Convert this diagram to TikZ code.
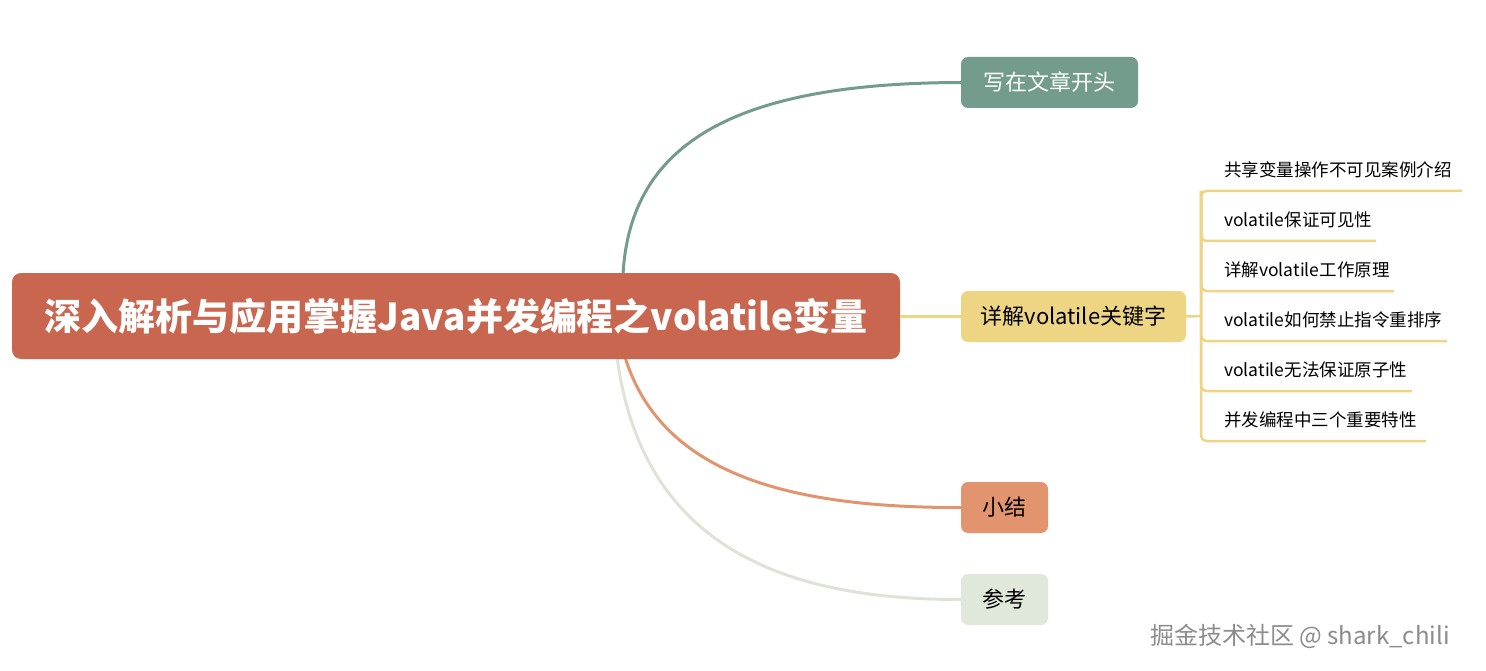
\documentclass[tikz,border=0pt]{standalone}
\usepackage{fontspec}
\setmainfont{Noto Sans CJK SC}
\definecolor{rootc}{HTML}{C9664F}
\definecolor{greenc}{HTML}{739C8C}
\definecolor{yellowc}{HTML}{EDD584}
\definecolor{orangec}{HTML}{E2946F}
\definecolor{lightc}{HTML}{DFE8DA}
\definecolor{lightline}{HTML}{DDE3D7}
\definecolor{wmark}{HTML}{8C8C8C}
\tikzset{
  topic/.style={rounded corners=7pt, minimum height=51pt, inner sep=0pt, font=\fontsize{22}{26}\selectfont},
  sub/.style={anchor=west, inner sep=0pt, font=\fontsize{17.5}{21}\selectfont},
  branch/.style={line width=3pt},
  subline/.style={draw=yellowc, line width=2.5pt, rounded corners=6pt},
}
\begin{document}
\begin{tikzpicture}[x=1pt,y=-1pt]
\useasboundingbox (0,0) rectangle (1486,671);
% branch starts
\coordinate (g0) at (623,275);
\coordinate (o0) at (625,357);
\coordinate (l0) at (617,357);
% main topics
\node[topic, fill=greenc, text=white, minimum width=177pt] (t1) at (1049.5,82.5) {写在文章开头};
\node[topic, fill=yellowc, text=black, minimum width=225pt] (t2) at (1073.5,316.5) {详解volatile关键字};
\node[topic, fill=orangec, text=black, minimum width=87pt] (t3) at (1004.5,507.5) {小结};
\node[topic, fill=lightc, text=black, minimum width=87pt] (t4) at (1004.5,599.5) {参考};
\draw[branch, draw=greenc] (g0) .. controls (630,140) and (740,83) .. (t1.west);
\draw[branch, draw=orangec] (o0) .. controls (660,470) and (780,508) .. (t3.west);
\draw[branch, draw=lightline] (l0) .. controls (640,530) and (760,600) .. (t4.west);
% root
\node[fill=rootc, rounded corners=9pt, minimum width=888pt, minimum height=86pt, inner sep=0pt,
      text=white, font=\fontsize{37}{40}\selectfont\bfseries] (root) at (456,316) {深入解析与应用掌握Java并发编程之volatile变量};
\draw[branch, draw=yellowc] (root.east |- t2.west) -- (t2.west);
% sub topics
\coordinate (b0) at (1201,316);
\draw[line width=2.5pt, draw=yellowc] (t2.east) -- (b0);
\node[sub] (s1) at (1224,170) {共享变量操作不可见案例介绍};
\node[sub] (s2) at (1224,220) {volatile保证可见性};
\node[sub] (s3) at (1224,270) {详解volatile工作原理};
\node[sub] (s4) at (1224,320) {volatile如何禁止指令重排序};
\node[sub] (s5) at (1224,370) {volatile无法保证原子性};
\node[sub] (s6) at (1224,420) {并发编程中三个重要特性};
\coordinate (e1) at (1462,191);
\coordinate (e2) at (1376,241);
\coordinate (e3) at (1394,291);
\coordinate (e4) at (1447,341);
\coordinate (e5) at (1412,391);
\coordinate (e6) at (1426,441);
\draw[subline] (e1) -- (b0 |- e1) -- (b0 |- e6) -- (e6);
\foreach \e in {e2,e3,e4,e5}{
  \draw[subline] (b0 |- e1) -- (b0 |- \e) -- (\e);
}
% watermark
\node[anchor=west, inner sep=0pt, text=white, font=\fontsize{24}{28}\selectfont] (wm2) at (1151.5,637.5) {掘金技术社区 @ shark\_chili};
\node[anchor=west, inner sep=0pt, text=wmark, font=\fontsize{24}{28}\selectfont] (wm) at (1150,636) {掘金技术社区 @ shark\_chili};
\end{tikzpicture}
\end{document}
